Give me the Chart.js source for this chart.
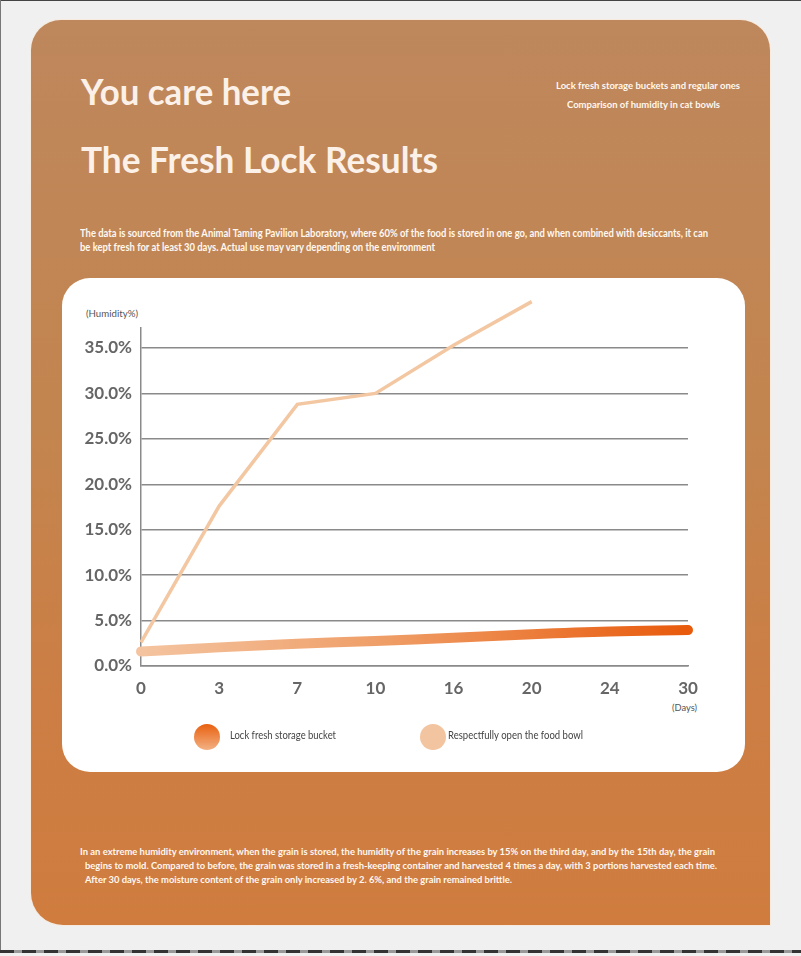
<!DOCTYPE html>
<html>
<head>
<meta charset="utf-8">
<script src="https://cdn.jsdelivr.net/npm/chart.js@4.4.1/dist/chart.umd.min.js"></script>
<style>
  html, body { margin: 0; padding: 0; }
  body { width: 801px; height: 956px; background: #f0f0f0; position: relative; overflow: hidden; font-family: Lato, "Open Sans", sans-serif; }
  .edge-top { position: absolute; left: 0; top: 0; width: 801px; height: 1px; background: #444; }
  .edge-left { position: absolute; left: 0; top: 0; width: 1px; height: 950px; background: #777; }
  .edge-bottom { position: absolute; left: 0; top: 950px; width: 801px; height: 3px;
    background: repeating-linear-gradient(90deg, #333 0 14px, #999 14px 22px); }
  .panel { position: absolute; left: 31px; top: 20px; width: 739px; height: 905px;
    border-radius: 30px 30px 0 32px;
    background: linear-gradient(180deg, #be875c 0%, #c3854f 45%, #cc7e44 75%, #d07c3f 100%);
    box-shadow: 0 0 0 1px rgba(250, 232, 210, 0.6); }
  .card { position: absolute; left: 62px; top: 278px; width: 683px; height: 494px; border-radius: 28px; background: #fff; }
  #humidity { position: absolute; left: 62px; top: 278px; }
  .t { position: absolute; white-space: nowrap; line-height: normal; transform-origin: left top; }
  .title { color: #fcf1e8; font-weight: 700; }
  .note { color: #fff8f0; font-weight: 700; }
  .axis-name { color: #555; font-weight: 400; }
  .dot { position: absolute; width: 26px; height: 26px; border-radius: 50%; }
</style>
</head>
<body>
<div class="edge-top"></div>
<div class="edge-left"></div>
<div class="edge-bottom"></div>
<div class="panel"></div>
<div class="card"></div>

<div class="t title" data-x="81" data-b="105" data-fs="36" data-w="210">You care here</div>
<div class="t title" data-x="81" data-b="173" data-fs="36" data-w="357">The Fresh Lock Results</div>

<div class="t note" data-x="556" data-b="89" data-fs="10" data-w="184">Lock fresh storage buckets and regular ones</div>
<div class="t note" data-x="567" data-b="107.5" data-fs="10" data-w="153">Comparison of humidity in cat bowls</div>

<div class="t note" data-x="80" data-b="237" data-fs="11" data-w="628">The data is sourced from the Animal Taming Pavilion Laboratory, where 60% of the food is stored in one go, and when combined with desiccants, it can</div>
<div class="t note" data-x="80" data-b="250.5" data-fs="11" data-w="355">be kept fresh for at least 30 days. Actual use may vary depending on the environment</div>

<div class="t axis-name" data-x="86" data-b="317" data-fs="9" data-w="52">(Humidity%)</div>
<div class="t axis-name" data-x="672" data-b="711" data-fs="9" data-w="25">(Days)</div>

<canvas id="humidity" width="683" height="494"></canvas>
<div id="legend"></div>

<div class="t note" data-x="80" data-b="855" data-fs="10" data-w="635">In an extreme humidity environment, when the grain is stored, the humidity of the grain increases by 15% on the third day, and by the 15th day, the grain</div>
<div class="t note" data-x="85" data-b="869" data-fs="10" data-w="632">begins to mold. Compared to before, the grain was stored in a fresh-keeping container and harvested 4 times a day, with 3 portions harvested each time.</div>
<div class="t note" data-x="85" data-b="883" data-fs="10" data-w="427">After 30 days, the moisture content of the grain only increased by 2. 6%, and the grain remained brittle.</div>

<script>
// data (humidity in %)
var days = ['0', '3', '7', '10', '16', '20', '24', '30'];
var lockBucket = [1.6, 2.05, 2.45, 2.75, 3.1, 3.5, 3.8, 3.95];
var openBowl = [2.6, 17.6, 28.8, 30.0, 35.3, 40.1, null, null];
var seriesNames = ['Lock fresh storage bucket', 'Respectfully open the food bowl'];

var measure = document.createElement('canvas').getContext('2d');

// put each text line on its baseline and squeeze it to the width in the picture
function placeText(el) {
  var fs = +el.dataset.fs;
  el.style.fontSize = fs + 'px';
  var cs = getComputedStyle(el);
  measure.font = cs.fontWeight + ' ' + fs + 'px ' + cs.fontFamily;
  var m = measure.measureText('Hg');
  el.style.left = el.dataset.x + 'px';
  el.style.top = (+el.dataset.b - m.fontBoundingBoxAscent) + 'px';
  var w = el.getBoundingClientRect().width;
  if (el.dataset.w) el.style.transform = 'scaleX(' + (+el.dataset.w / w) + ')';
}

// legend, drawn as html under the chart
var legend = document.getElementById('legend');
var legendX = [[194, 230, 106], [420, 448, 135]];
var dotFill = ['linear-gradient(180deg, #e8600f, #f3b184)', '#f2c4a0'];
seriesNames.forEach(function (name, i) {
  var dot = document.createElement('div');
  dot.className = 'dot';
  dot.style.left = legendX[i][0] + 'px';
  dot.style.top = '724px';
  dot.style.background = dotFill[i];
  legend.appendChild(dot);
  var lbl = document.createElement('div');
  lbl.className = 't axis-name';
  lbl.style.color = '#444';
  lbl.dataset.x = legendX[i][1];
  lbl.dataset.b = 739;
  lbl.dataset.fs = 10.5;
  lbl.dataset.w = legendX[i][2];
  lbl.textContent = name;
  legend.appendChild(lbl);
});

document.querySelectorAll('.t').forEach(placeText);

function brush(context) {
  var chart = context.chart;
  var area = chart.chartArea;
  if (!area) return '#ee8a4a';
  var g = chart.ctx.createLinearGradient(area.left, 0, area.right, 0);
  g.addColorStop(0, '#f4c4a0');
  g.addColorStop(0.45, '#ef9d66');
  g.addColorStop(1, '#e85a0c');
  return g;
}

var gridGrey = '#8a8a8a';

var ctx = document.getElementById('humidity').getContext('2d');
var humidityChart = new Chart(ctx, {
  type: 'line',
  data: {
    labels: days,
    datasets: [{
      label: seriesNames[1],
      data: openBowl,
      borderColor: '#f3c7a1',
      borderWidth: 3.5,
      pointRadius: 0,
      tension: 0,
      clip: false,
      order: 2
    }, {
      label: seriesNames[0],
      data: lockBucket,
      borderColor: brush,
      borderWidth: 10,
      borderCapStyle: 'round',
      pointRadius: 0,
      tension: 0.4,
      clip: false,
      order: 1
    }]
  },
  options: {
    responsive: false,
    animation: false,
    layout: { padding: { top: 50, right: 57, bottom: 0, left: 0 } },
    plugins: {
      legend: { display: false },
      tooltip: { enabled: false }
    },
    scales: {
      x: {
        offset: false,
        grid: { display: false, drawTicks: false },
        border: { color: gridGrey, width: 1.5 },
        ticks: {
          padding: 12,
          color: '#666',
          font: { family: 'Lato', size: 17, weight: 'bold' }
        },
        afterFit: function (scale) { scale.height = 106; }
      },
      y: {
        min: 0,
        max: 37.2,
        grid: { color: gridGrey, lineWidth: 1.5, drawTicks: false },
        border: { color: gridGrey, width: 1.5 },
        ticks: {
          stepSize: 5,
          includeBounds: false,
          padding: 9,
          color: '#666',
          font: { family: 'Lato', size: 17, weight: 'bold' },
          callback: function (v) { return v.toFixed(1) + '%'; }
        },
        afterFit: function (scale) { scale.width = 79; }
      }
    }
  }
});
</script>
</body>
</html>
